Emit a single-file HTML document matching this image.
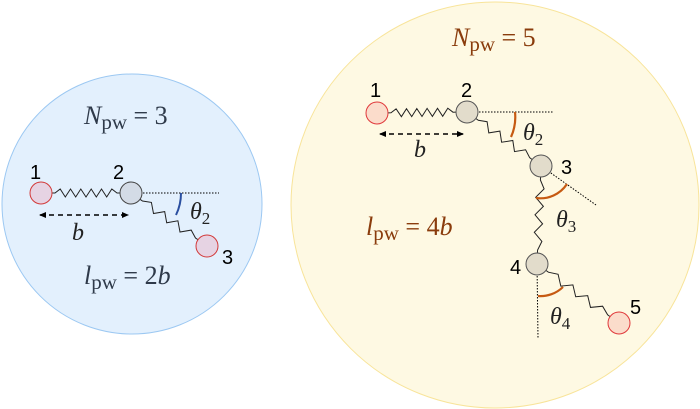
<!DOCTYPE html>
<html><head><meta charset="utf-8"><style>
html,body{margin:0;padding:0;background:#fff;width:700px;height:409px;overflow:hidden}
svg text{font-family:"Liberation Serif",serif}
.n{font-family:"Liberation Sans",sans-serif;font-size:20px;fill:#000}
</style></head><body>
<svg id="s" width="700" height="409" viewBox="0 0 700 409" xmlns="http://www.w3.org/2000/svg">
<defs>
<marker id="ah" markerWidth="8" markerHeight="8" refX="6" refY="4" orient="auto-start-reverse" markerUnits="userSpaceOnUse"><path d="M0,1 L7,4 L0,7z" fill="#000"/></marker>
</defs>
<circle cx="132" cy="204" r="130" fill="#e3f0fd" stroke="#9cc8f2" stroke-width="1"/>
<ellipse cx="495" cy="205" rx="204" ry="203" fill="#fef9e3" stroke="#f8e49a" stroke-width="1"/>
<g id="springs" fill="none" stroke="#222" stroke-width="1"></g>
<!-- left -->
<line x1="131" y1="193" x2="219" y2="193" stroke="#000" stroke-dasharray="1.5,1.5"/>
<path d="M181,193 A50,50 0 0 1 176,215" fill="none" stroke="#2a4fa0" stroke-width="2"/>
<line x1="40" y1="215" x2="128" y2="215" stroke="#000" stroke-width="1.5" stroke-dasharray="5,4" marker-start="url(#ah)" marker-end="url(#ah)"/>
<circle cx="41" cy="193" r="11" fill="#e6d3e3" stroke="#d23a3a"/>
<circle cx="131" cy="193" r="11" fill="#d3dbe6" stroke="#444"/>
<circle cx="207" cy="246" r="11" fill="#e6d3e3" stroke="#d23a3a"/>
<text class="n" x="30" y="179">1</text>
<text class="n" x="113" y="179">2</text>
<text class="n" x="222" y="264">3</text>
<text x="190" y="219" font-size="24" font-style="italic" fill="#222">θ<tspan font-size="17" font-style="normal" dy="5">2</tspan></text>
<text x="72" y="240" font-size="24" font-style="italic" fill="#222">b</text>
<text x="84" y="124" font-size="26" fill="#2f3a4a"><tspan font-style="italic">N</tspan><tspan font-size="21" dy="5">pw</tspan><tspan dy="-5"> = 3</tspan></text>
<text x="84" y="284" font-size="26" fill="#2f3a4a"><tspan font-style="italic">l</tspan><tspan font-size="21" dy="5">pw</tspan><tspan dy="-5"> = 2</tspan><tspan font-style="italic">b</tspan></text>
<!-- right -->
<line x1="467" y1="112" x2="553" y2="112" stroke="#000" stroke-dasharray="1.5,1.5"/>
<line x1="541" y1="166" x2="596" y2="205" stroke="#000" stroke-dasharray="1.5,1.5"/>
<line x1="537" y1="264" x2="538" y2="338" stroke="#000" stroke-dasharray="1.5,1.5"/>
<path d="M515,112 A48,48 0 0 1 511,137" fill="none" stroke="#c65a12" stroke-width="2.2"/>
<path d="M536,198 A32,32 0 0 0 567,184" fill="none" stroke="#c65a12" stroke-width="2.2"/>
<path d="M538,296 A32,32 0 0 0 563,287" fill="none" stroke="#c65a12" stroke-width="2.2"/>
<line x1="380" y1="134" x2="463" y2="134" stroke="#000" stroke-width="1.5" stroke-dasharray="5,4" marker-start="url(#ah)" marker-end="url(#ah)"/>
<circle cx="377" cy="113" r="11" fill="#fbdccb" stroke="#e0393b"/>
<circle cx="467" cy="112" r="11" fill="#e2dccb" stroke="#555"/>
<circle cx="541" cy="166" r="11" fill="#e2dccb" stroke="#555"/>
<circle cx="537" cy="264" r="11" fill="#e2dccb" stroke="#555"/>
<circle cx="619" cy="323" r="11" fill="#fbdccb" stroke="#e0393b"/>
<text class="n" x="370" y="97">1</text>
<text class="n" x="461" y="97">2</text>
<text class="n" x="561" y="174">3</text>
<text class="n" x="510" y="274">4</text>
<text class="n" x="630" y="314">5</text>
<text x="523" y="140" font-size="24" font-style="italic" fill="#222">θ<tspan font-size="17" font-style="normal" dy="5">2</tspan></text>
<text x="556" y="227" font-size="24" font-style="italic" fill="#222">θ<tspan font-size="17" font-style="normal" dy="5">3</tspan></text>
<text x="550" y="324" font-size="24" font-style="italic" fill="#222">θ<tspan font-size="17" font-style="normal" dy="5">4</tspan></text>
<text x="414" y="157" font-size="24" font-style="italic" fill="#222">b</text>
<text x="452" y="46" font-size="26" fill="#8a3c0c"><tspan font-style="italic">N</tspan><tspan font-size="21" dy="5">pw</tspan><tspan dy="-5"> = 5</tspan></text>
<text x="366" y="235" font-size="26" fill="#8a3c0c"><tspan font-style="italic">l</tspan><tspan font-size="21" dy="5">pw</tspan><tspan dy="-5"> = 4</tspan><tspan font-style="italic">b</tspan></text>
</svg>
<script>
(function(){
var g=document.getElementById('springs');
function spring(x1,y1,x2,y2,r1,r2,n,a){
 var dx=x2-x1,dy=y2-y1,L=Math.hypot(dx,dy),ux=dx/L,uy=dy/L,px=-uy,py=ux;
 var s=r1+3,e=L-r2-3,pts=[[x1+ux*r1,y1+uy*r1],[x1+ux*s,y1+uy*s]];
 var seg=(e-s)/(2*n);
 for(var i=1;i<2*n;i++){var t=s+seg*i,k=(i%2?-a:a);pts.push([x1+ux*t+px*k,y1+uy*t+py*k]);}
 pts.push([x1+ux*e,y1+uy*e]);pts.push([x1+ux*(L-r2),y1+uy*(L-r2)]);
 var p=document.createElementNS('http://www.w3.org/2000/svg','polyline');
 p.setAttribute('points',pts.map(function(q){return q[0].toFixed(1)+','+q[1].toFixed(1)}).join(' '));
 g.appendChild(p);
}
spring(41,193,131,193,11,11,6,4);
spring(131,193,207,246,11,11,4,4);
spring(377,113,467,112,11,11,6,4);
spring(467,112,541,166,11,11,4,4);
spring(541,166,537,264,11,11,4,4);
spring(537,264,619,323,11,11,4,4);
})();
</script>
</body></html>
